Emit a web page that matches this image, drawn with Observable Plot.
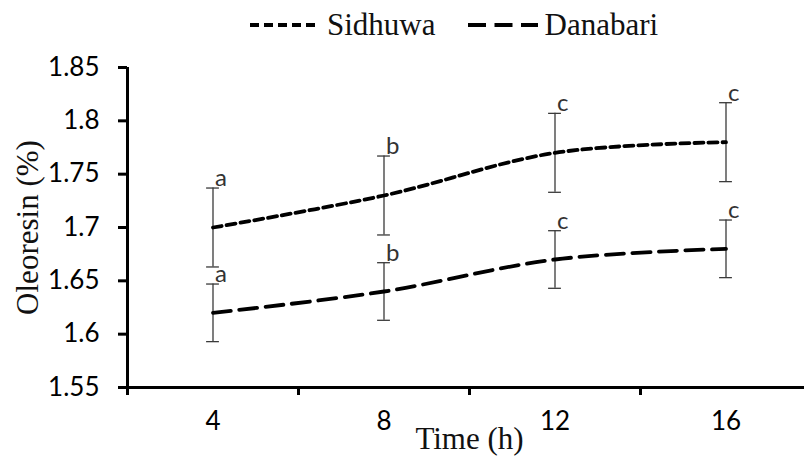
<!DOCTYPE html>
<html>
<head>
<meta charset="utf-8">
<script src="https://cdn.jsdelivr.net/npm/d3@7"></script>
<script src="https://cdn.jsdelivr.net/npm/@observablehq/plot@0.6"></script>
<style>
  html, body { margin: 0; padding: 0; background: #fff; }
  #wrap { width: 804px; height: 457px; overflow: hidden; position: relative; }
  #legend { height: 50px; display: flex; align-items: center; padding-left: 250px; box-sizing: border-box;
            font-family: "Liberation Serif", "Times New Roman", serif; font-size: 31px; color: #111; }
  .item { display: flex; align-items: center; }
  .item span { margin-left: 7px; }
  .item + .item { margin-left: 32px; }
  svg { display: block; }
</style>
</head>
<body>
<div id="wrap">
  <div id="legend"></div>
  <div id="chart"></div>
</div>
<script>
// ---- data ----
const times = [4, 8, 12, 16];
const seriesNames = ["Sidhuwa", "Danabari"];
const sidhuwa = [1.70, 1.73, 1.77, 1.78];
const sidhuwaErr = [0.037, 0.037, 0.037, 0.037];
const sidhuwaLetters = ["a", "b", "c", "c"];
const danabari = [1.62, 1.64, 1.67, 1.68];
const danabariErr = [0.027, 0.027, 0.027, 0.027];
const danabariLetters = ["a", "b", "c", "c"];
const yTicks = [1.55, 1.6, 1.65, 1.7, 1.75, 1.8, 1.85];
const yTickLabels = ["1.55", "1.6", "1.65", "1.7", "1.75", "1.8", "1.85"];
const xCategoryEdges = [2, 6, 10, 14, 18];
const xTickLabels = ["4", "8", "12", "16"];

// ---- styles ----
const dashes = {Sidhuwa: "9,5", Danabari: "18,8.5"};

// ---- build rows ----
function rows(name, vals, errs, letters) {
  return times.map((t, i) => ({series: name, t, v: vals[i], lo: vals[i] - errs[i], hi: vals[i] + errs[i], letter: letters[i]}));
}
const sRows = rows("Sidhuwa", sidhuwa, sidhuwaErr, sidhuwaLetters);
const dRows = rows("Danabari", danabari, danabariErr, danabariLetters);
const all = sRows.concat(dRows);

// ---- legend ----
const legend = document.getElementById("legend");
seriesNames.forEach(name => {
  const item = document.createElement("div");
  item.className = "item";
  item.innerHTML = `<svg width="70" height="10"><line x1="0" y1="5" x2="70" y2="5" stroke="#000" stroke-width="4" stroke-dasharray="${dashes[name]}"/></svg><span>${name}</span>`;
  legend.appendChild(item);
});

const capHalf = 0.15;
const serif = "Liberation Serif, Times New Roman, serif";
const sans = "Lato, Calibri, sans-serif";

const chart = Plot.plot({
  width: 804,
  height: 407,
  marginLeft: 127,
  marginRight: 0,
  marginTop: 17,
  marginBottom: 70,
  x: {type: "linear", domain: [2, 18], range: [127, 811]},
  y: {domain: [1.55, 1.85]},
  style: {fontFamily: sans, color: "#000", background: "#fff", overflow: "visible"},
  marks: [
    // error bars
    Plot.ruleX(all, {x: "t", y1: "lo", y2: "hi", stroke: "#3a3a3a", strokeWidth: 1.3}),
    Plot.ruleY(all, {y: "hi", x1: d => d.t - capHalf, x2: d => d.t + capHalf, stroke: "#3a3a3a", strokeWidth: 1.3}),
    Plot.ruleY(all, {y: "lo", x1: d => d.t - capHalf, x2: d => d.t + capHalf, stroke: "#3a3a3a", strokeWidth: 1.3}),
    // lines
    Plot.line(sRows, {x: "t", y: "v", stroke: "#000", strokeWidth: 3.8, strokeDasharray: dashes.Sidhuwa, curve: "catmull-rom"}),
    Plot.line(dRows, {x: "t", y: "v", stroke: "#000", strokeWidth: 3.8, strokeDasharray: dashes.Danabari, curve: "catmull-rom"}),
    // letters
    Plot.text(all, {x: "t", y: "hi", text: "letter", textAnchor: "start", lineAnchor: "bottom", dx: 2, dy: -2, fontSize: 24, fill: "#333", fontFamily: sans}),
    // axes
    Plot.ruleY([1.55], {stroke: "#000", strokeWidth: 3}),
    Plot.ruleX([2], {stroke: "#000", strokeWidth: 3}),
    Plot.axisY({ticks: yTicks, tickFormat: d => yTickLabels[yTicks.indexOf(d)], tickSize: 9, tickPadding: 19, strokeWidth: 3, fontSize: 26, label: null, fill: "#000"}),
    Plot.axisX({ticks: xCategoryEdges, tickFormat: () => "", tickSize: 8, strokeWidth: 3, label: null}),
    Plot.axisX({ticks: times, tickFormat: d => xTickLabels[times.indexOf(d)], tickSize: 0, tickPadding: 24, fontSize: 26, label: null, fill: "#000"}),
    // axis titles
    Plot.text(["Time (h)"], {x: 10, y: 1.55, dy: 52, text: d => d, fontSize: 31, fontFamily: serif, fill: "#111"}),
    Plot.text(["Oleoresin (%)"], {frameAnchor: "left", textAnchor: "middle", dx: -99, rotate: -90, text: d => d, fontSize: 31, fontFamily: serif, fill: "#111"})
  ]
});
document.getElementById("chart").appendChild(chart);
</script>
</body>
</html>
